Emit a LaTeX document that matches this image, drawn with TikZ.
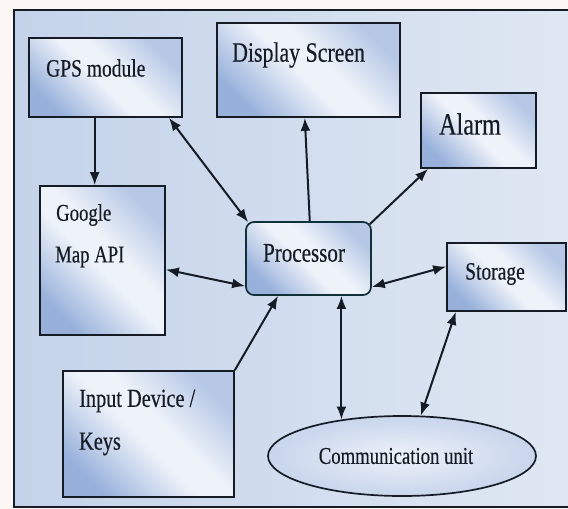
\documentclass[tikz,border=0pt]{standalone}
\usepackage{fontspec}
\setmainfont{Liberation Serif}[FakeStretch=0.78,FakeBold=0.4]
\usetikzlibrary{shapes.geometric,arrows.meta,calc}

\definecolor{pagebg}{RGB}{252,247,244}
\definecolor{panelL}{RGB}{196,211,233}
\definecolor{panelR}{RGB}{224,232,243}
\definecolor{boxblue}{RGB}{152,177,219}
\definecolor{boxlight}{RGB}{238,242,249}
\definecolor{ink}{RGB}{22,28,38}

% diagonal blue-white-blue fill for the blocks
\pgfdeclarehorizontalshading{blockshade}{100bp}{color(0bp)=(boxblue); color(25bp)=(boxblue); color(47bp)=(boxlight); color(56bp)=(boxlight); color(75bp)=(boxblue!65!boxlight); color(100bp)=(boxblue!65!boxlight)}

\tikzset{
  block/.style={rectangle, draw=ink, line width=1.7pt, shading=blockshade, shading angle=45, inner sep=0pt},
  label/.style={text=ink, inner sep=0pt},
  tipL/.tip={Latex[length=13pt,width=10pt]},
  conn/.style={line width=2pt, draw=ink, -tipL},
  both/.style={line width=2pt, draw=ink, tipL-tipL},
}

\begin{document}
\begin{tikzpicture}[x=1pt,y=-1pt]
  % page and panel
  \fill[pagebg] (0,0) rectangle (568,509);
  \useasboundingbox (0,0) rectangle (568,509);
  \shade[left color=panelL, right color=panelR, draw=ink, line width=1.5pt] (14,10) rectangle (590,507);

  % blocks
  \node[block, minimum width=153pt, minimum height=79pt] (gps) at (105.5,77.5) {};
  \node[block, minimum width=183pt, minimum height=94pt] (disp) at (308.5,70) {};
  \node[block, minimum width=115pt, minimum height=75pt] (alarm) at (478.5,130.5) {};
  \node[block, minimum width=125pt, minimum height=149pt] (google) at (102.5,260.5) {};
  \node[block, rounded corners=8pt, draw=ink!80!teal, minimum width=125pt, minimum height=73pt] (proc) at (308.5,258.5) {};
  \node[block, minimum width=119pt, minimum height=68pt] (stor) at (506.5,277) {};
  \node[block, minimum width=171pt, minimum height=126pt] (input) at (148.5,434) {};
  \node[ellipse, draw=ink, line width=1.7pt, inner color=boxlight, outer color=boxblue!45!boxlight, inner sep=0pt, minimum width=268pt, minimum height=80pt] (comm) at (402,456) {};

  % captions
  \node[label, anchor=west, font=\fontsize{25}{28}\selectfont] (gpsT) at (46,68) {GPS module};
  \node[label, anchor=west, font=\fontsize{28}{30}\selectfont] (dispT) at (232,55) {Display Screen};
  \node[label, font=\fontsize{31}{33}\selectfont] (alarmT) at (470,124) {Alarm};
  \node[label, anchor=west, font=\fontsize{24}{26}\selectfont] (googleT) at (56,215) {Google};
  \node[label, anchor=west, font=\fontsize{24}{26}\selectfont] (mapT) at (55,257) {Map API};
  \node[label, font=\fontsize{27}{29}\selectfont] (procT) at (304,253) {Processor};
  \node[label, font=\fontsize{25}{27}\selectfont] (storT) at (495,274) {Storage};
  \node[label, anchor=west, font=\fontsize{26}{28}\selectfont] (inputT) at (79,401) {Input Device /};
  \node[label, anchor=west, font=\fontsize{26}{28}\selectfont] (keysT) at (79,444) {Keys};
  \node[label, font=\fontsize{24}{26}\selectfont] (commT) at (396,456) {Communication unit};

  % attachment points on the block borders
  \coordinate (gpsS) at ($(gps.south west)!0.43!(gps.south east)$);
  \coordinate (gpsSE) at ($(gps.south west)!0.91!(gps.south east)$);
  \coordinate (procNW) at ($(proc.north west)+(3,1)$);
  \coordinate (procN) at ($(proc.north west)!0.51!(proc.north east)$);
  \coordinate (dispS) at ($(disp.south west)!0.48!(disp.south east)$);
  \coordinate (procNE) at ($(proc.north east)+(-2,3)$);
  \coordinate (alarmSW) at ($(alarm.south west)+(8,0)$);
  \coordinate (googleE) at ($(google.north east)!0.56!(google.south east)$);
  \coordinate (procW) at ($(proc.north west)!0.87!(proc.south west)$);
  \coordinate (procS) at ($(proc.south west)!0.26!(proc.south east)$);
  \coordinate (procE) at ($(proc.north east)!0.88!(proc.south east)$);
  \coordinate (storW) at ($(stor.north west)!0.35!(stor.south west)$);
  \coordinate (procSB) at ($(proc.south west)!0.76!(proc.south east)$);
  \coordinate (storS) at ($(stor.south west)!0.08!(stor.south east)$);

  % connectors
  \draw[conn] (gpsS) -- (gpsS |- google.north);
  \draw[both] (gpsSE) -- (procNW);
  \draw[conn] (procN) -- (dispS);
  \draw[conn] (procNE) -- (alarmSW);
  \draw[both] (googleE) -- (procW);
  \draw[conn] (input.north east) -- (procS);
  \draw[both] (procE) -- (storW);
  \draw[both] (procSB) -- (procSB |- comm.149.5);
  \draw[both] (storS) -- (comm.65);
\end{tikzpicture}
\end{document}
